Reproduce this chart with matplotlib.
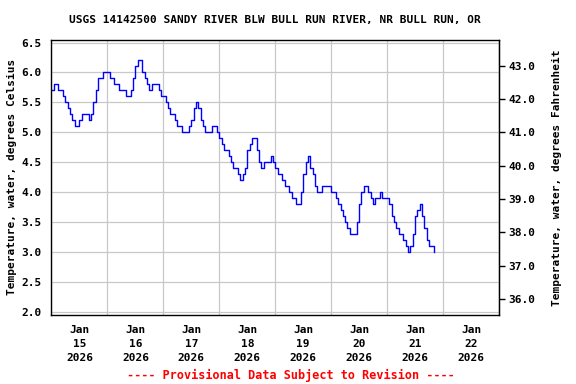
import pandas as pd
import numpy as np
import matplotlib
matplotlib.use("Agg")
import matplotlib.pyplot as plt
import matplotlib.dates as mdates

plt.rcParams['font.family'] = 'DejaVu Sans Mono'
plt.rcParams['font.weight'] = 'bold'
plt.rcParams['axes.labelweight'] = 'bold'
plt.rcParams['axes.titleweight'] = 'bold'
plt.rcParams['font.size'] = 8

title = "USGS 14142500 SANDY RIVER BLW BULL RUN RIVER, NR BULL RUN, OR"
footer = "---- Provisional Data Subject to Revision ----"

# hourly water temperature (deg C), starting Jan 15 2026 00:00
temp_c = [
    # Jan 15
    5.7, 5.8, 5.8, 5.7, 5.7, 5.6, 5.5, 5.4, 5.3, 5.2, 5.1, 5.1,
    5.2, 5.3, 5.3, 5.3, 5.2, 5.3, 5.5, 5.7, 5.9, 5.9, 6.0, 6.0,
    # Jan 16
    6.0, 5.9, 5.9, 5.8, 5.8, 5.7, 5.7, 5.7, 5.6, 5.6, 5.7, 5.9,
    6.1, 6.2, 6.2, 6.0, 5.9, 5.8, 5.7, 5.8, 5.8, 5.8, 5.7, 5.6,
    # Jan 17
    5.6, 5.5, 5.4, 5.3, 5.3, 5.2, 5.1, 5.1, 5.0, 5.0, 5.0, 5.1,
    5.2, 5.4, 5.5, 5.4, 5.2, 5.1, 5.0, 5.0, 5.0, 5.1, 5.1, 5.0,
    # Jan 18
    4.9, 4.8, 4.7, 4.7, 4.6, 4.5, 4.4, 4.4, 4.3, 4.2, 4.3, 4.4,
    4.7, 4.8, 4.9, 4.9, 4.7, 4.5, 4.4, 4.5, 4.5, 4.5, 4.6, 4.5,
    # Jan 19
    4.4, 4.3, 4.3, 4.2, 4.1, 4.1, 4.0, 3.9, 3.9, 3.8, 3.8, 4.0,
    4.3, 4.5, 4.6, 4.4, 4.3, 4.1, 4.0, 4.0, 4.1, 4.1, 4.1, 4.1,
    # Jan 20
    4.0, 4.0, 3.9, 3.8, 3.7, 3.6, 3.5, 3.4, 3.3, 3.3, 3.3, 3.5,
    3.8, 4.0, 4.1, 4.1, 4.0, 3.9, 3.8, 3.9, 3.9, 4.0, 3.9, 3.9,
    # Jan 21
    3.9, 3.8, 3.6, 3.5, 3.4, 3.3, 3.3, 3.2, 3.1, 3.0, 3.1, 3.3,
    3.6, 3.7, 3.8, 3.6, 3.4, 3.2, 3.1, 3.1, 3.0,
]
times = pd.date_range("2026-01-15 00:00", periods=len(temp_c), freq="h")

c_ticks = [2.0, 2.5, 3.0, 3.5, 4.0, 4.5, 5.0, 5.5, 6.0, 6.5]
f_ticks = [36.0, 37.0, 38.0, 39.0, 40.0, 41.0, 42.0, 43.0]

fig = plt.figure(figsize=(5.76, 3.84), dpi=100)
ax = fig.add_axes([0.0894, 0.1797, 0.7769, 0.7174])

ax.plot(times, temp_c, color="#0000FF", linewidth=1.0, drawstyle="steps-post")

ax.set_xlim(pd.Timestamp("2026-01-15"), pd.Timestamp("2026-01-23"))
ax.set_ylim(1.955, 6.55)
ax.set_yticks(c_ticks)
ax.set_yticklabels([f"{v:.1f}" for v in c_ticks])

ax.xaxis.set_major_locator(mdates.DayLocator())
ax.xaxis.set_major_formatter(plt.NullFormatter())
ax.xaxis.set_minor_locator(mdates.HourLocator(byhour=[12]))
ax.xaxis.set_minor_formatter(mdates.DateFormatter("%b\n%d\n%Y"))
ax.tick_params(axis="x", which="both", length=0, pad=7)
ax.tick_params(axis="y", length=0, pad=7)
for lab in ax.get_xticklabels(minor=True):
    lab.set_linespacing(1.5)

ax.grid(True, which="major", color="#c8c8c8", linewidth=0.9)
ax.set_axisbelow(True)
for s in ax.spines.values():
    s.set_linewidth(1.0)
    s.set_color("black")

ax.set_ylabel("Temperature, water, degrees Celsius", labelpad=3)

sec = ax.secondary_yaxis("right", functions=(lambda c: c * 9 / 5 + 32,
                                             lambda f: (f - 32) * 5 / 9))
sec.set_yticks(f_ticks)
sec.set_yticklabels([f"{v:.1f}" for v in f_ticks])
sec.tick_params(axis="y", length=4, width=1, direction="out", pad=3)
sec.set_ylabel("Temperature, water, degrees Fahrenheit", labelpad=12)

ax.set_title(title, fontsize=8, pad=12)
fig.text(0.505, 0.006, footer, color="#FF0000", ha="center", va="bottom",
         fontsize=8.5)

fig.savefig("out.png", dpi=100)
